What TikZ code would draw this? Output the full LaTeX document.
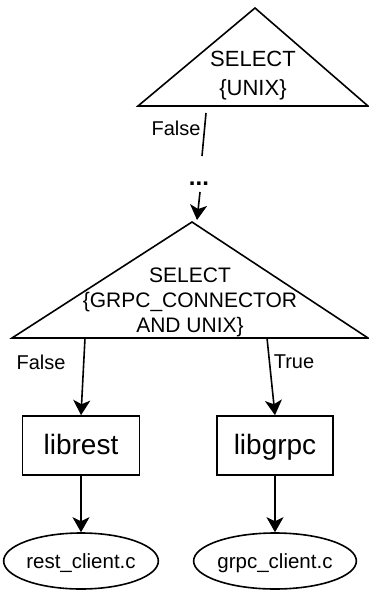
\documentclass[tikz,border=0pt]{standalone}
\usepackage{fontspec}
\setmainfont{Liberation Sans}
\usetikzlibrary{arrows.meta,shapes.geometric}

\tikzset{
  conn/.style={-{Stealth[length=15pt,width=17pt,inset=4pt]}},
  condtext/.style={align=center,inner sep=0pt},
  lbl/.style={inner sep=0pt,font=\fontsize{20}{24}\selectfont},
  libbox/.style={draw,rectangle,minimum height=59pt,inner sep=0pt,
    text height=20pt,text depth=2pt,font=\fontsize{28}{32}\selectfont},
  srcfile/.style={draw,ellipse,minimum width=136pt,minimum height=56pt,inner sep=0pt,
    text height=14pt,text depth=0pt,font=\fontsize{20.5}{24}\selectfont},
}

\begin{document}
\begin{tikzpicture}[x=1pt,y=-1pt,line width=1.6pt]
\useasboundingbox (0,0) rectangle (369,590);

% first condition
\coordinate (c1apex) at (255,8);
\coordinate (c1left) at (138,106);
\coordinate (c1right) at (368,106);
\draw[line join=miter] (c1apex) -- (c1right) -- (c1left) -- cycle;
\node[condtext,font=\fontsize{22}{29}\selectfont] (c1) at (253,76) {SELECT\\\{UNIX\}};

% false branch of the first condition, elided
\coordinate (c1false) at (206,113);
\coordinate (c1falseend) at (202,156);
\draw (c1false) -- (c1falseend);
\node[lbl] (f1) at (176,128) {False};
\node[inner sep=0pt,anchor=base,font=\bfseries\fontsize{24}{24}\selectfont] (dots) at (199,185.5) {...};
\coordinate (dotsout) at (200,192);
\coordinate (c2in) at (197,220);
\draw[conn] (dotsout) -- (c2in);

% second condition
\coordinate (c2apex) at (192,222);
\coordinate (c2left) at (12,338);
\coordinate (c2right) at (368,338);
\draw[line join=miter] (c2apex) -- (c2right) -- (c2left) -- cycle;
\node[condtext,font=\fontsize{21}{25}\selectfont] (c2) at (190,302)
  {SELECT\\\{GRPC\_CONNECTOR\\AND UNIX\}};

% libraries
\node[libbox,minimum width=117pt] (librest) at (81,445.5) {librest};
\node[libbox,minimum width=116pt] (libgrpc) at (275,445.5) {libgrpc};

% branches of the second condition
\coordinate (c2false) at (85,338);
\coordinate (c2true) at (267,338);
\draw[conn] (c2false) -- (librest.north);
\draw[conn] (c2true) -- (libgrpc.north);
\node[lbl] (f2) at (41,362) {False};
\node[lbl] (t2) at (294,362) {True};

% source files
\node[srcfile] (restc) at (81,561) {rest\_client.c};
\node[srcfile] (grpcc) at (275,561) {grpc\_client.c};
\draw[conn] (librest) -- (restc);
\draw[conn] (libgrpc) -- (grpcc);
\end{tikzpicture}
\end{document}
